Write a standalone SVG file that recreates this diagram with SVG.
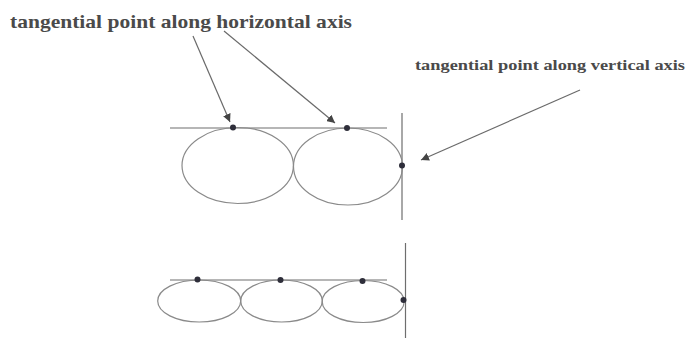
<svg xmlns="http://www.w3.org/2000/svg" width="687" height="352" viewBox="0 0 687 352">
<style>
.lbl{font-family:"Liberation Serif","Times New Roman",serif;font-weight:bold;fill:#4a4a4a}
.shape{fill:none;stroke:#8a8a8a;stroke-width:1.2}
.axis{stroke:#6e6e6e;stroke-width:1.2}
.dot{fill:#2e2e3a}
.arr{stroke:#6a6a6a;stroke-width:1.2;fill:none;marker-end:url(#ah)}
</style>
<defs>
<marker id="ah" viewBox="0 0 10 10" refX="10" refY="5" markerWidth="8" markerHeight="8" markerUnits="userSpaceOnUse" orient="auto">
<path d="M0,0 L10,5 L0,10 z" fill="#444"/>
</marker>
</defs>
<rect width="687" height="352" fill="#fff"/>
<g id="label-horizontal"><text class="lbl" x="10" y="28" font-size="19" textLength="342" lengthAdjust="spacingAndGlyphs">tangential point along horizontal axis</text></g>
<g id="label-vertical"><text class="lbl" x="415" y="70" font-size="15" textLength="270" lengthAdjust="spacingAndGlyphs">tangential point along vertical axis</text></g>
<g id="top-row">
<line class="axis" x1="170" y1="128" x2="387" y2="128"/>
<line class="axis" x1="402" y1="113" x2="402" y2="220"/>
<ellipse class="shape" cx="237.7" cy="165.5" rx="55.7" ry="38"/>
<ellipse class="shape" cx="348" cy="166.5" rx="54.5" ry="38.5"/>
<circle class="dot" cx="233" cy="127.5" r="3"/>
<circle class="dot" cx="347" cy="128" r="3"/>
<circle class="dot" cx="402" cy="165.5" r="3"/>
</g>
<g id="bottom-row">
<line class="axis" x1="170" y1="280" x2="387" y2="280"/>
<line class="axis" x1="405.5" y1="243" x2="405.5" y2="338"/>
<ellipse class="shape" cx="199.2" cy="301" rx="41.5" ry="21"/>
<ellipse class="shape" cx="281.5" cy="301" rx="40.8" ry="21"/>
<ellipse class="shape" cx="363.2" cy="301.5" rx="41" ry="21"/>
<circle class="dot" cx="197.5" cy="279.5" r="3"/>
<circle class="dot" cx="280.5" cy="280" r="3"/>
<circle class="dot" cx="362.5" cy="281" r="3"/>
<circle class="dot" cx="403.5" cy="300" r="3"/>
</g>
<g id="connectors">
<line class="arr" x1="193" y1="36" x2="230" y2="122"/>
<line class="arr" x1="224" y1="31" x2="335" y2="123"/>
<line class="arr" x1="580" y1="90" x2="421" y2="160"/>
</g>
</svg>
